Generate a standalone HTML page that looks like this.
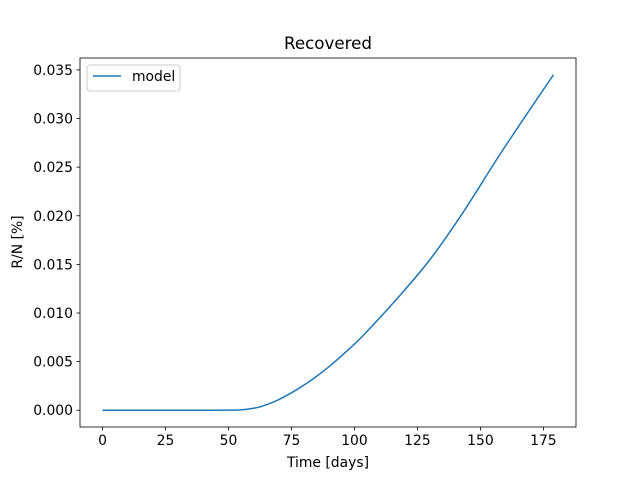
<!DOCTYPE html>
<html><head><meta charset="utf-8"><style>
body{margin:0;background:#fff}
text{font-family:"DejaVu Sans","Liberation Sans",sans-serif;fill:#000}
</style></head><body>
<svg id="chart" width="640" height="480" xmlns="http://www.w3.org/2000/svg">
<rect width="640" height="480" fill="#fff"/>
<text x="328" y="49" font-size="16.7" text-anchor="middle">Recovered</text>
<g id="xt"></g>
<g id="yt"></g>
<path id="line" fill="none" stroke="#1f77b4" stroke-width="1.5"/>
<rect x="80" y="58" width="496" height="369" fill="none" stroke="#000" stroke-width="0.8"/>
<text x="328" y="467" font-size="13.9" text-anchor="middle">Time [days]</text>
<text transform="translate(22,242) rotate(-90)" font-size="13.9" text-anchor="middle">R/N [%]</text>
<g>
<rect x="87" y="65" width="93" height="26" rx="3" fill="#fff" stroke="#ccc"/>
<line x1="93" y1="76" x2="121" y2="76" stroke="#1f77b4" stroke-width="1.5"/>
<text x="132" y="81" font-size="13.9">model</text>
</g>
</svg>
<script>
const days=[0,10,20,30,40,50,55,60,64,70,77,84,90,97,103.5,117,130,143,159,179];
const recovered=[0,0,0,0,0,0.00001,0.00004,0.0002,0.00047,0.0011,0.0021,0.0033,0.0045,0.0061,0.0077,0.0115,0.0155,0.0203,0.0268,0.0345];
const xTicks=[0,25,50,75,100,125,150,175];
const yTicks=[0,0.005,0.01,0.015,0.02,0.025,0.03,0.035];
const L=80,R=576,T=58,B=427;
const xmin=-0.05*179,xmax=179*1.05,ymin=-0.05*0.0345,ymax=0.0345*1.05;
const sx=v=>L+(v-xmin)/(xmax-xmin)*(R-L);
const sy=v=>B-(v-ymin)/(ymax-ymin)*(B-T);
const NS="http://www.w3.org/2000/svg";
const xt=document.getElementById('xt'),yt=document.getElementById('yt');
xTicks.forEach(t=>{
 const l=document.createElementNS(NS,'line');
 l.setAttribute('x1',sx(t));l.setAttribute('x2',sx(t));l.setAttribute('y1',B);l.setAttribute('y2',B+3.5);l.setAttribute('stroke','#000');l.setAttribute('stroke-width','0.8');
 
 
 xt.appendChild(l);
 const s=document.createElementNS(NS,'text');
 s.setAttribute('x',sx(t));s.setAttribute('y',B+18);s.setAttribute('font-size','13.9');s.setAttribute('text-anchor','middle');
 s.textContent=t;
 
 
 xt.appendChild(s);
});
yTicks.forEach(t=>{
 const l=document.createElementNS(NS,'line');
 l.setAttribute('x1',L-3.5);l.setAttribute('x2',L);l.setAttribute('y1',sy(t));l.setAttribute('y2',sy(t));l.setAttribute('stroke','#000');l.setAttribute('stroke-width','0.8');
 
 
 yt.appendChild(l);
 const s=document.createElementNS(NS,'text');
 s.setAttribute('x',L-7);s.setAttribute('y',sy(t)+5);s.setAttribute('font-size','13.9');s.setAttribute('text-anchor','end');
 s.textContent=t.toFixed(3);
 
 
 yt.appendChild(s);
});
const P=days.map((d,i)=>[sx(d),sy(recovered[i])]);
let d='M'+P[0][0]+','+P[0][1];
for(let i=0;i<P.length-1;i++){
 const p0=P[Math.max(i-1,0)],p1=P[i],p2=P[i+1],p3=P[Math.min(i+2,P.length-1)];
 const c1=[p1[0]+(p2[0]-p0[0])/6,p1[1]+(p2[1]-p0[1])/6];
 const c2=[p2[0]-(p3[0]-p1[0])/6,p2[1]-(p3[1]-p1[1])/6];
 d+=' C'+c1[0]+','+c1[1]+' '+c2[0]+','+c2[1]+' '+p2[0]+','+p2[1];
}
document.getElementById('line').setAttribute('d',d);
</script>
</body></html>
